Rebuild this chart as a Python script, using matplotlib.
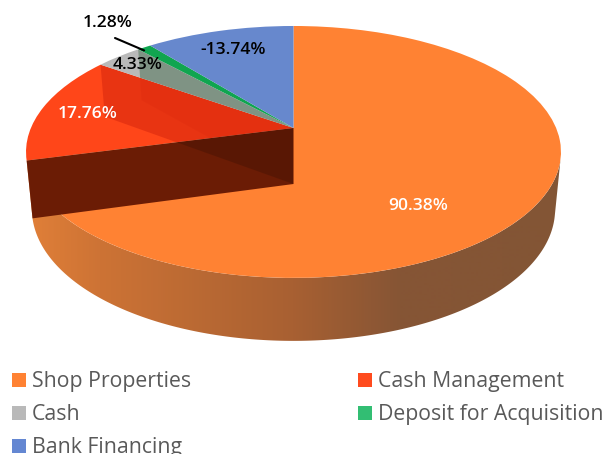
import numpy as np
import matplotlib
matplotlib.use("Agg")
import matplotlib.pyplot as plt
from matplotlib.patches import Polygon, Patch
from matplotlib.transforms import Transform

categories = ["Shop Properties", "Cash Management", "Cash", "Deposit for Acquisition", "Bank Financing"]
values = [90.38, 17.76, 4.33, 1.28, -13.74]
colors = ["#FF8233", "#FF4619", "#B9B9B9", "#10A550", "#6788CD"]
legend_colors = ["#FF8233", "#FF4B1E", "#B9B9B9", "#32BE73", "#6487D2"]
label_colors = ["white", "white", "black", "black", "black"]
label_xy = [(418, 206), (88, 114), (138, 65), (108, 23), (233, 50)]

CX, CY, A, B, K = 293.5, 128.0, 262.6, 121.4, 0.19
D0, D1, SHRINK = 56.0, 7.0, 0.978


def project(u, v, low=False):
    u, v = np.asarray(u, float), np.asarray(v, float)
    d = 1 + K * v
    x = CX + A * u / d
    y = CY - B * v / d
    if low:
        y = y + D0 - D1 * v
        x = CX + (x - CX) * SHRINK
    return x, y


class Perspective(Transform):
    input_dims = output_dims = 2
    has_inverse = False
    is_separable = False

    def transform_non_affine(self, values):
        values = np.asarray(values)
        x, y = project(values[:, 0], values[:, 1])
        return np.column_stack([x, y])


def rim(phi, low=False):
    a = np.radians(phi)
    return project(np.sin(a), np.cos(a), low)


def wall(phi):
    x0, y0 = project(0, 0)
    x1, y1 = project(0, 0, True)
    x2, y2 = rim(phi)
    x3, y3 = rim(phi, True)
    return [(x0, y0), (x2, y2), (x3, y3), (x1, y1)]


sizes = np.abs(values)
edges = np.cumsum(sizes) / sizes.sum() * 360

fig = plt.figure(figsize=(6.04, 4.54), dpi=100)
ax = fig.add_axes([0, 0, 1, 1])
wedges, _ = ax.pie(sizes, colors=colors, startangle=90, counterclock=False,
                   wedgeprops=dict(linewidth=0))
ax.set_aspect("auto")
ax.axis("off")

proj = Perspective() + ax.transData
for w in wedges:
    w.set_transform(proj)
    w.set_zorder(3)
wedges[0].set_zorder(2)

# outer side of the largest slice
phi = np.linspace(104, edges[0], 200)
xt, yt = rim(phi)
xb, yb = rim(phi, True)
side = Polygon(np.column_stack([np.r_[xt, xb[::-1]], np.r_[yt, yb[::-1]]]),
               closed=True, transform=ax.transData, facecolor="none", edgecolor="none")
ax.add_patch(side)
gx = np.linspace(0, 604, 605)
stops_x = [30, 100, 293, 400, 604]
stops_c = np.array([[224, 127, 56], [205, 115, 53], [168, 96, 50], [134, 85, 53], [130, 85, 53]]) / 255
grad = np.stack([np.interp(gx, stops_x, stops_c[:, i]) for i in range(3)], axis=-1)[None, :, :]
im = ax.imshow(grad, extent=(0, 604, 454, 0), aspect="auto", zorder=1)
im.set_clip_path(side)

# cut faces seen through the slices
cut = Polygon(wall(edges[0]), closed=True, facecolor="#6B1C05", edgecolor="none", zorder=4)
ax.add_patch(cut)
s_dark = Polygon(wall(edges[1]), closed=True, facecolor="black", edgecolor="none", alpha=0.16, zorder=5)
ax.add_patch(s_dark)
s_dark.set_clip_path(cut)
s_red = Polygon(wall(edges[1]), closed=True, facecolor="#A40000", edgecolor="none", alpha=0.25, zorder=5)
ax.add_patch(s_red)
s_red.set_clip_path(wedges[1])
s_red2 = Polygon(wall(edges[2]), closed=True, facecolor="#A40000", edgecolor="none", alpha=0.06, zorder=5)
ax.add_patch(s_red2)
s_red2.set_clip_path(wedges[1])
s_gray = Polygon(wall(edges[2]), closed=True, facecolor="#466E50", edgecolor="none", alpha=0.5, zorder=5)
ax.add_patch(s_gray)
s_gray.set_clip_path(wedges[2])

ax.set_xlim(0, 604)
ax.set_ylim(454, 0)

font = ["Open Sans", "DejaVu Sans"]
for v, c, (x, y) in zip(values, label_colors, label_xy):
    ax.text(x, y, f"{v:.2f}%", color=c, ha="center", va="center", fontsize=12.6,
            fontweight="semibold", family=font, zorder=8)
x3, y3 = rim((edges[2] + edges[3]) / 2)
ax.annotate("", xy=(x3, y3 + 3), xytext=(115, 38),
            arrowprops=dict(arrowstyle="-", color="black", lw=1.5, shrinkA=0, shrinkB=0), zorder=8)

order = [0, 2, 4, 1, 3]
handles = [Patch(facecolor=legend_colors[i], edgecolor="none", label=categories[i]) for i in order]
leg = ax.legend(handles=handles, ncols=2, loc="upper left", bbox_to_anchor=(12, 371.5),
                bbox_transform=ax.transData, frameon=False, borderpad=0, borderaxespad=0,
                prop=dict(family="Open Sans", size=15.3), labelcolor="#595959",
                handlelength=0.64, handleheight=0.64, handletextpad=0.31,
                labelspacing=0.56, columnspacing=7.85)
fig.savefig("out.png", dpi=100, facecolor="white")
